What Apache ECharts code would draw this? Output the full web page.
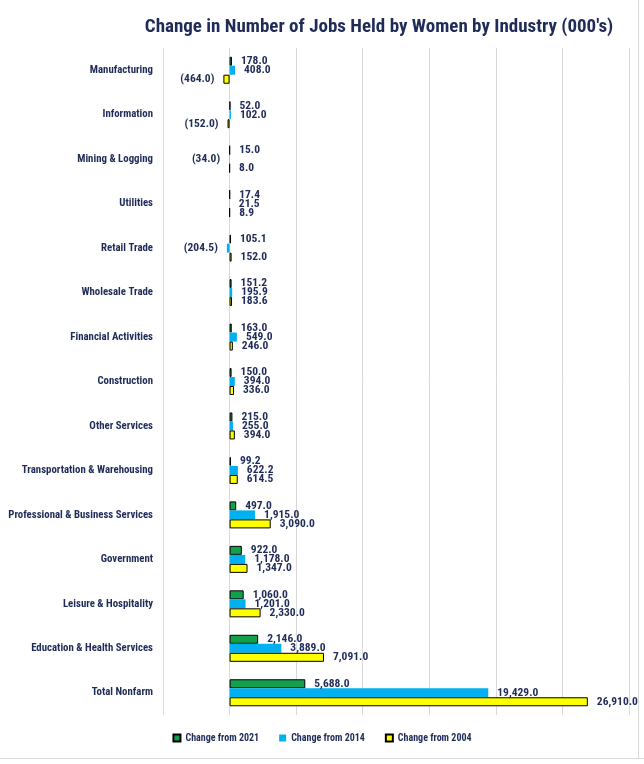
<!DOCTYPE html>
<html>
<head>
<meta charset="utf-8">
<script src="https://cdn.jsdelivr.net/npm/echarts@6/dist/echarts.min.js"></script>
<style>html,body{margin:0;padding:0;background:#fff}#c{width:644px;height:764px}</style>
</head>
<body>
<div id="c"></div>
<script>
const categories = ["Manufacturing","Information","Mining & Logging","Utilities","Retail Trade","Wholesale Trade","Financial Activities","Construction","Other Services","Transportation & Warehousing","Professional & Business Services","Government","Leisure & Hospitality","Education & Health Services","Total Nonfarm"];
const from2021 = [178.0, 52.0, 15.0, 17.4, 105.1, 151.2, 163.0, 150.0, 215.0, 99.2, 497.0, 922.0, 1060.0, 2146.0, 5688.0];
const from2014 = [408.0, 102.0, -34.0, 21.5, -204.5, 195.9, 549.0, 394.0, 255.0, 622.2, 1915.0, 1178.0, 1201.0, 3889.0, 19429.0];
const from2004 = [-464.0, -152.0, 8.0, 8.9, 152.0, 183.6, 246.0, 336.0, 394.0, 614.5, 3090.0, 1347.0, 2330.0, 7091.0, 26910.0];
const seriesNames = ["Change from 2021","Change from 2014","Change from 2004"];

const navy = '#1F2B58';
const font = "'Liberation Sans Narrow','Roboto Condensed','Liberation Sans',sans-serif";

function fmt(v){
  const s = Math.abs(v).toLocaleString('en-US',{minimumFractionDigits:1,maximumFractionDigits:1});
  return v < 0 ? '(' + s + ')' : s;
}
function items(arr){
  return arr.map(v => ({value: v, label: {position: v < 0 ? 'left' : 'right'}}));
}
const styles = [
  {color:'#12A04C', borderColor:'#000', borderWidth:1},
  {color:'#00B0F0', borderWidth:0},
  {color:'#FFFF00', borderColor:'#000', borderWidth:1}
];
const datasets = [from2021, from2014, from2004];

const chart = echarts.init(document.getElementById('c'), null, {renderer:'canvas'});
chart.setOption({
  animation:false,
  backgroundColor:'#fff',
  title:{
    text:"Change in Number of Jobs Held by Women by Industry (000's)",
    left:374, top:13, textAlign:'center',
    textStyle:{color:navy, fontSize:19, fontWeight:'bold', fontFamily:font}
  },
  legend:{
    bottom:16, left:'center',
    itemWidth:7, itemHeight:7, itemGap:20,
    icon:'rect',
    textStyle:{color:navy, fontSize:10, fontWeight:'bold', fontFamily:font},
    data:seriesNames
  },
  grid:{left:163, right:15, top:48, bottom:49, containLabel:false},
  xAxis:{
    type:'value', min:-5000, max:30000, interval:5000,
    axisLabel:{show:false}, axisLine:{show:false}, axisTick:{show:false},
    splitLine:{lineStyle:{color:'#D9D9D9', width:1}}
  },
  yAxis:{
    type:'category', data:categories, inverse:true,
    axisLine:{show:false, onZero:false}, axisTick:{show:false},
    axisLabel:{color:navy, fontSize:10.8, fontWeight:'bold', fontFamily:font, margin:10}
  },
  series: datasets.map((d,i)=>({
    name:seriesNames[i], type:'bar', data:items(d),
    barWidth:9, barGap:'0%',
    itemStyle:styles[i],
    label:{show:true, distance:9, formatter:p=>fmt(p.value), color:navy, fontSize:11.5, fontWeight:'bold', fontFamily:font}
  })),
  graphic:[
    {type:'line', shape:{x1:638.5,y1:0,x2:638.5,y2:758}, style:{stroke:'#D9D9D9', lineWidth:1}},
    {type:'line', shape:{x1:0,y1:758.5,x2:644,y2:758.5}, style:{stroke:'#D9D9D9', lineWidth:1}}
  ]
});
</script>
</body>
</html>
